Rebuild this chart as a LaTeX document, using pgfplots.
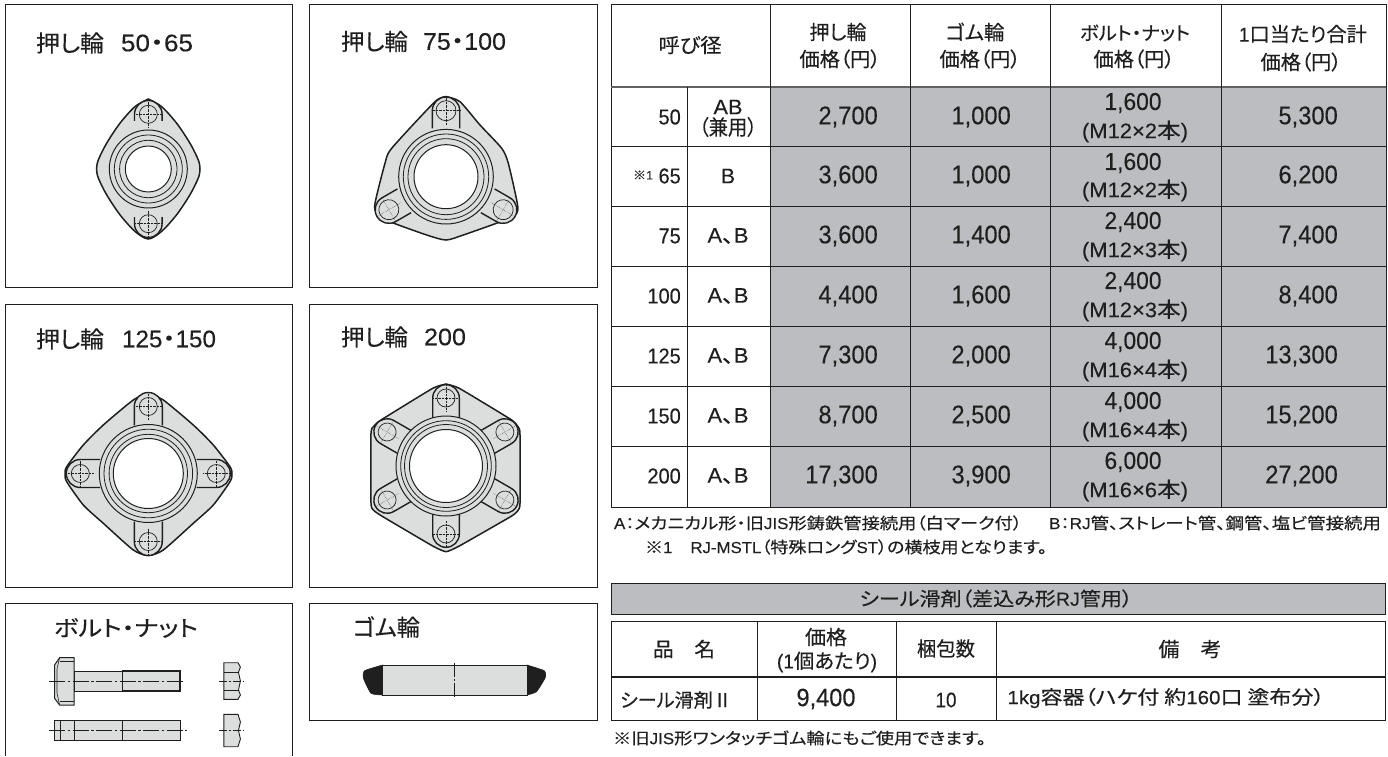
\documentclass[border=0pt]{standalone}
\usepackage{fontspec}
\usepackage{graphicx}
\usepackage{pgfplots}
\pgfplotsset{compat=1.18}
\setmainfont[FakeStretch=0.93,FakeBold=0.15]{Liberation Sans}
\newfontfamily\jp[RawFeature=+palt,FakeBold=0.25]{Noto Sans CJK JP}
\newcommand\J[1]{{\jp #1}}
\definecolor{ink}{HTML}{1F1F1F}
\definecolor{gsh}{HTML}{DCDDDD}
\definecolor{cell}{HTML}{BBBDC0}
\newcommand\fs[1]{\fontsize{#1}{#1}\selectfont}
% x y size width text
\newcommand\T[5]{\node[anchor=center,inner sep=0pt,text=ink] at (axis cs:#1,#2) {\fs{#3}\resizebox{#4pt}{\height}{#5}};}
\newcommand\Line[2][]{\addplot[draw=ink,line width=1pt,#1] coordinates {#2};}
\newcommand\Rect[5][white]{\addplot[fill=#1,draw=ink,line width=1pt] coordinates {(#2,#3)(#4,#3)(#4,#5)(#2,#5)} --cycle;}
\newcommand\ring[5]{\addplot[only marks,mark=*,mark size=#3pt,mark options={fill=#4,draw=ink,line width=#5pt}] coordinates {(#1,#2)};}
% cx cy angle dist hw R boltr
\newcommand\lug[7]{%
 \pgfmathsetmacro\lx{sqrt(#6*#6-#5*#5)}%
 \begin{scope}[shift={(axis cs:#1,#2)},rotate=#3]
  \fill[gsh] (0pt,-#5pt) -- (#4pt,-#5pt) arc[start angle=-90,end angle=90,radius=#5pt] -- (0pt,#5pt) -- cycle;
  \draw[ink,line width=1.4pt] (\lx pt,-#5pt) -- (#4pt,-#5pt) arc[start angle=-90,end angle=90,radius=#5pt] -- (\lx pt,#5pt);
  \draw[fill=gsh,draw=ink,line width=.7pt] (#4pt,0pt) circle[radius=#7pt];
  \draw[ink,line width=.4pt,densely dotted] (#4pt-#7pt-4pt,0pt) -- (#4pt+#7pt+4pt,0pt) (#4pt,-#7pt-4pt) -- (#4pt,#7pt+4pt);
 \end{scope}}
\newcommand\vals[3]{\addplot[draw=none,point meta=explicit symbolic,nodes near coords,
  every node near coord/.append style={anchor=#1,inner sep=0pt,text=ink,font=\fs{#2}}] coordinates {#3};}
\begin{document}
\begin{tikzpicture}
\begin{axis}[width=1388pt,height=756pt,scale only axis,xmin=0,xmax=1388,ymin=0,ymax=756,
  y dir=reverse,hide axis,clip=false]
\addplot[fill=white,draw=none] coordinates {(0,0)(1388,0)(1388,756)(0,756)} --cycle;
% boxes
\Rect{5}{4.5}{292}{287}
\Rect{309}{4.5}{597}{287}
\Rect{5}{304}{292}{587}
\Rect{309}{304}{597}{587}
\Line{(5,756)(5,603)(292,603)(292,756)}
\Rect{309}{603}{597}{720}
% titles
\T{70}{43}{23}{68}{\J{押し輪}}
\T{157}{43}{24}{72}{50\J{・}65}
\T{374.5}{41.5}{23}{67}{\J{押し輪}}
\T{464.5}{41.5}{24}{83}{75\J{・}100}
\T{70}{339}{23}{68}{\J{押し輪}}
\T{169}{339}{24}{94}{125\J{・}150}
\T{374.5}{337}{23}{67}{\J{押し輪}}
\T{445}{337}{24}{42}{200}
\T{126}{628}{22}{144}{\J{ボルト・ナット}}
\T{386.5}{627}{23}{67}{\J{ゴム輪}}
% flange 1
\addplot[smooth,tension=.5,fill=gsh,draw=ink,line width=1.5pt] coordinates {
 (148.3,99)(161.7,106.7)(176.7,123.3)(190,143.3)(198.3,160)(200,169)(198.3,178)(190,194.7)(176.7,214.7)(161.7,231.3)(148.3,239)
 (134.9,231.3)(119.9,214.7)(106.6,194.7)(98.3,178)(96.6,169)(98.3,160)(106.6,143.3)(119.9,123.3)(134.9,106.7)(148.3,99)} --cycle;
\ring{148.3}{169}{39}{gsh}{1}
\lug{148.3}{169}{90}{54.7}{13.8}{39}{9}
\lug{148.3}{169}{-90}{54.7}{13.8}{39}{9}
\ring{148.3}{169}{34}{gsh}{.8}
\ring{148.3}{169}{28.7}{gsh}{.8}
\ring{148.3}{169}{23}{white}{1}
% flange 2
\addplot[smooth,tension=.4,fill=gsh,draw=ink,line width=1.5pt] coordinates {
 (446.7,96.7)(460,101.7)(480,125)(501.7,148.3)(508.3,163.3)(517.3,203.3)(516.7,213.3)(503.3,220.7)(463.3,235)(446,240)(426.7,235)(390,221.7)(376.7,213.3)(375,203.3)(385,163.3)(391.7,148.3)(435,101.7)(446.7,96.7)} --cycle;
\ring{446}{176.7}{47.3}{gsh}{1}
\lug{446}{176.7}{90}{66}{13.7}{47.3}{10}
\lug{446}{176.7}{210}{66}{13.7}{47.3}{10}
\lug{446}{176.7}{330}{66}{13.7}{47.3}{10}
\ring{446}{176.7}{42.7}{gsh}{.8}
\ring{446}{176.7}{38}{gsh}{.8}
\ring{446}{176.7}{32}{white}{1}
% flange 3
\addplot[smooth,tension=.4,fill=gsh,draw=ink,line width=1.5pt] coordinates {
 (148.3,393.5)(163.3,400)(193.3,425)(213.3,445)(230,466.7)(232,474)(230,481.7)(213.3,505)(193.3,523.3)(163.3,550)(148.3,555.5)
 (133.3,550)(103.3,523.3)(83.3,505)(66.7,481.7)(65,474)(66.7,466.7)(83.3,445)(103.3,425)(133.3,400)(148.3,393.5)} --cycle;
\ring{148.3}{473.5}{49}{gsh}{1}
\lug{148.3}{473.5}{90}{67}{14}{49}{9}
\lug{148.3}{473.5}{0}{68}{14}{49}{9}
\lug{148.3}{473.5}{-90}{68}{14}{49}{9}
\lug{148.3}{473.5}{180}{68}{14}{49}{9}
\ring{148.3}{473.5}{44.3}{gsh}{.8}
\ring{148.3}{473.5}{39.2}{gsh}{.8}
\ring{148.3}{473.5}{35}{white}{1}
% flange 4
\addplot[smooth,tension=.25,fill=gsh,draw=ink,line width=1.5pt] coordinates {
 (446,384)(459.3,388.3)(511.7,420)(519,428.3)(520,435)(520,503.3)(518.3,510)(511.7,516)(459.3,546)(446,551.7)(432.7,546)(381.7,516)(373.3,510)(371,503.3)(371,433.3)(373.3,426.7)(381,420)(432.7,388.3)(446,384)} --cycle;
\ring{446}{466}{50}{gsh}{1}
\lug{446}{466}{90}{68}{13.3}{50}{9}
\lug{446}{466}{30}{68}{13.3}{50}{9}
\lug{446}{466}{-30}{68}{13.3}{50}{9}
\lug{446}{466}{-90}{68}{13.3}{50}{9}
\lug{446}{466}{-150}{68}{13.3}{50}{9}
\lug{446}{466}{150}{68}{13.3}{50}{9}
\ring{446}{466}{45.3}{gsh}{.8}
\ring{446}{466}{41.5}{gsh}{.8}
\ring{446}{466}{36.5}{white}{1}
% bolt 1
\addplot[fill=gsh,draw=ink,line width=1pt] coordinates {(59.6,657.7)(74.2,657.7)(74.2,705)(59.6,705)(54.6,698.3)(54.6,665)} --cycle;
\Line[line width=.6pt]{(59.6,661)(74.2,661)}
\Line[line width=.6pt]{(59.6,701.7)(74.2,701.7)}
\Line[line width=.6pt]{(59.6,657.7)(57,669)(57,693)(59.6,705)}
\Rect[gsh]{74.2}{671}{122.3}{691}
\Rect[gsh]{122.3}{671}{180.8}{691}
\Line[line width=1.3pt]{(122.3,671)(180.8,671)}
\Line[line width=1.3pt]{(122.3,691)(180.8,691)}
\Line[line width=.5pt]{(179,671)(179,691)}
\Line[line width=.5pt,dash pattern=on 16pt off 2.5pt on 2.5pt off 2.5pt]{(49,681)(183.5,681)}
% bolt 2
\Rect[gsh]{54.6}{720.3}{122.3}{740.7}
\Rect[gsh]{122.3}{720.3}{180.8}{740.7}
\Line[line width=.8pt]{(60.4,720.3)(60.4,740.7)}
\Line[line width=.8pt]{(74.2,720.3)(74.2,740.7)}
\Line[line width=1.3pt]{(122.3,720.3)(180.8,720.3)}
\Line[line width=1.3pt]{(122.3,740.7)(180.8,740.7)}
\Line[line width=.5pt,dash pattern=on 16pt off 2.5pt on 2.5pt off 2.5pt]{(49,730.5)(187,730.5)}
% nut 1
\addplot[fill=gsh,draw=ink,line width=.9pt] coordinates {(223.8,662.7)(238,662.7)(240.4,667)(238.5,672.3)(240.4,681)(238.5,690)(240.4,695)(238,699.3)(223.8,699.3)} --cycle;
\Line[line width=.6pt]{(223.8,672.3)(238.5,672.3)}
\Line[line width=.6pt]{(223.8,690)(238.5,690)}
\Line[line width=.5pt,dash pattern=on 8pt off 2pt on 2pt off 2pt]{(219,681)(244,681)}
% nut 2
\addplot[fill=gsh,draw=ink,line width=.9pt] coordinates {(223.8,714.3)(238,714.3)(240.4,722)(238.5,730.5)(240.4,739)(238,746.7)(223.8,746.7)} --cycle;
\Line[line width=1.5pt]{(223.8,714.3)(238,714.3)}
\Line[line width=.5pt,dash pattern=on 8pt off 2pt on 2pt off 2pt]{(219,730.5)(244,730.5)}
% rubber ring
\addplot[fill=ink,draw=ink,line width=.6pt,smooth,tension=.3] coordinates {(382.7,665)(364.6,670.7)(363.5,678.3)(371,693.3)(382.7,695)} --cycle;
\addplot[fill=ink,draw=ink,line width=.6pt,smooth,tension=.3] coordinates {(527,665)(544.2,670.7)(545.4,677.3)(536.5,691.7)(527,695)} --cycle;
\Rect[gsh]{382.7}{665}{527}{695}
\Line[line width=.5pt,dash pattern=on 14pt off 2pt on 2pt off 2pt]{(453.8,662.7)(453.8,697.7)}
% price table
\Rect[cell]{770}{87}{1386}{507}
\Rect{611}{4.5}{1386}{87}
\Rect{611}{87}{770}{507}
\Line[line width=1.6pt,draw=ink!70]{(611,87)(1386,87)}
\Line{(611,146.5)(1386,146.5)}
\Line{(611,206.5)(1386,206.5)}
\Line{(611,266.5)(1386,266.5)}
\Line{(611,326.5)(1386,326.5)}
\Line{(611,386.5)(1386,386.5)}
\Line{(611,446.5)(1386,446.5)}
\Line{(611,507)(1386,507)}
\Line{(687,87)(687,507)}
\Line{(770,4.5)(770,507)}
\Line{(910,4.5)(910,507)}
\Line{(1050,4.5)(1050,507)}
\Line{(1221,4.5)(1221,507)}
% header
\T{690}{45}{20}{63}{\J{呼び径}}
\T{838}{32}{20}{57}{\J{押し輪}}
\T{840}{59}{20}{81}{\J{価格（円）}}
\T{975}{32}{20}{59}{\J{ゴム輪}}
\T{980}{59}{20}{81}{\J{価格（円）}}
\T{1135}{33}{19}{110}{\J{ボルト・ナット}}
\T{1134}{59}{20}{81}{\J{価格（円）}}
\T{1303}{34}{20}{128}{1\J{口当たり合計}}
\T{1301}{62}{20}{81}{\J{価格（円）}}
% first columns
\vals{east}{21.5}{(681,117)[50](681,176)[65](681,236)[75](681,296)[100](681,356)[125](681,416)[150](681,476)[200]}
\T{643}{175}{12}{20}{\J{※}1}
\T{728}{107}{21}{29}{AB}
\T{728}{127}{21}{58}{\J{（兼用）}}
\T{728}{176}{21}{14}{B}
\T{728}{236}{21}{41}{A\J{、}B}
\T{728}{296}{21}{41}{A\J{、}B}
\T{728}{356}{21}{41}{A\J{、}B}
\T{728}{416}{21}{41}{A\J{、}B}
\T{728}{476}{21}{41}{A\J{、}B}
% prices
\vals{east}{25.5}{(878,117)[2,700](878,176)[3,600](878,236)[3,600](878,296)[4,400](878,356)[7,300](878,416)[8,700](878,476)[17,300]}
\vals{east}{25.5}{(1011,117)[1,000](1011,176)[1,000](1011,236)[1,400](1011,296)[1,600](1011,356)[2,000](1011,416)[2,500](1011,476)[3,900]}
\vals{center}{24.5}{(1133,103)[1,600](1133,163)[1,600](1133,222)[2,400](1133,282)[2,400](1133,342)[4,000](1133,402)[4,000](1133,462)[6,000]}
\vals{east}{25.5}{(1338,117)[5,300](1338,176)[6,200](1338,236)[7,400](1338,296)[8,400](1338,356)[13,300](1338,416)[15,200](1338,476)[27,200]}
\T{1135}{131.5}{21}{106}{(M12×2\J{本})}
\T{1135}{190.5}{21}{106}{(M12×2\J{本})}
\T{1135}{250.5}{21}{106}{(M12×3\J{本})}
\T{1135}{310.5}{21}{106}{(M12×3\J{本})}
\T{1135}{370.5}{21}{106}{(M16×4\J{本})}
\T{1135}{430.5}{21}{106}{(M16×4\J{本})}
\T{1135}{490.5}{21}{106}{(M16×6\J{本})}
% notes
\T{818}{523}{16}{408}{A\J{：メカニカル形・旧}JIS\J{形鋳鉄管接続用（白マーク付）}}
\T{1215}{523}{16}{332}{B\J{：}RJ\J{管、ストレート管、鋼管、塩ビ管接続用}}
\T{846}{547}{16}{402}{\J{※}1\quad RJ-MSTL\J{（特殊ロング}ST\J{）の横枝用となります。}}
% seal table
\Rect[cell]{611}{583}{1385}{614}
\T{996}{598.5}{19}{273}{\J{シール滑剤（差込み形}RJ\J{管用）}}
\Rect{611}{621}{1385}{720}
\Line[line width=1.6pt]{(611,677)(1385,677)}
\Line{(757,621)(757,720)}
\Line{(896,621)(896,720)}
\Line{(996,621)(996,720)}
\T{684}{649}{20}{62}{\J{品　名}}
\T{826}{637}{20}{42}{\J{価格}}
\T{827}{662}{20}{100}{(1\J{個あたり})}
\T{946}{648.5}{20}{58}{\J{梱包数}}
\T{1190}{649}{20}{63}{\J{備　考}}
\T{676}{700}{19}{112}{\J{シール滑剤Ⅱ}}
\T{826}{699}{25}{59}{9,400}
\T{946}{700}{21}{21}{10}
\T{1166}{698}{19}{317}{1kg\J{容器（ハケ付 約}160\J{口 塗布分）}}
\T{799.5}{738}{16}{373}{\J{※旧}JIS\J{形ワンタッチゴム輪にもご使用できます。}}
\end{axis}
\end{tikzpicture}
\end{document}
